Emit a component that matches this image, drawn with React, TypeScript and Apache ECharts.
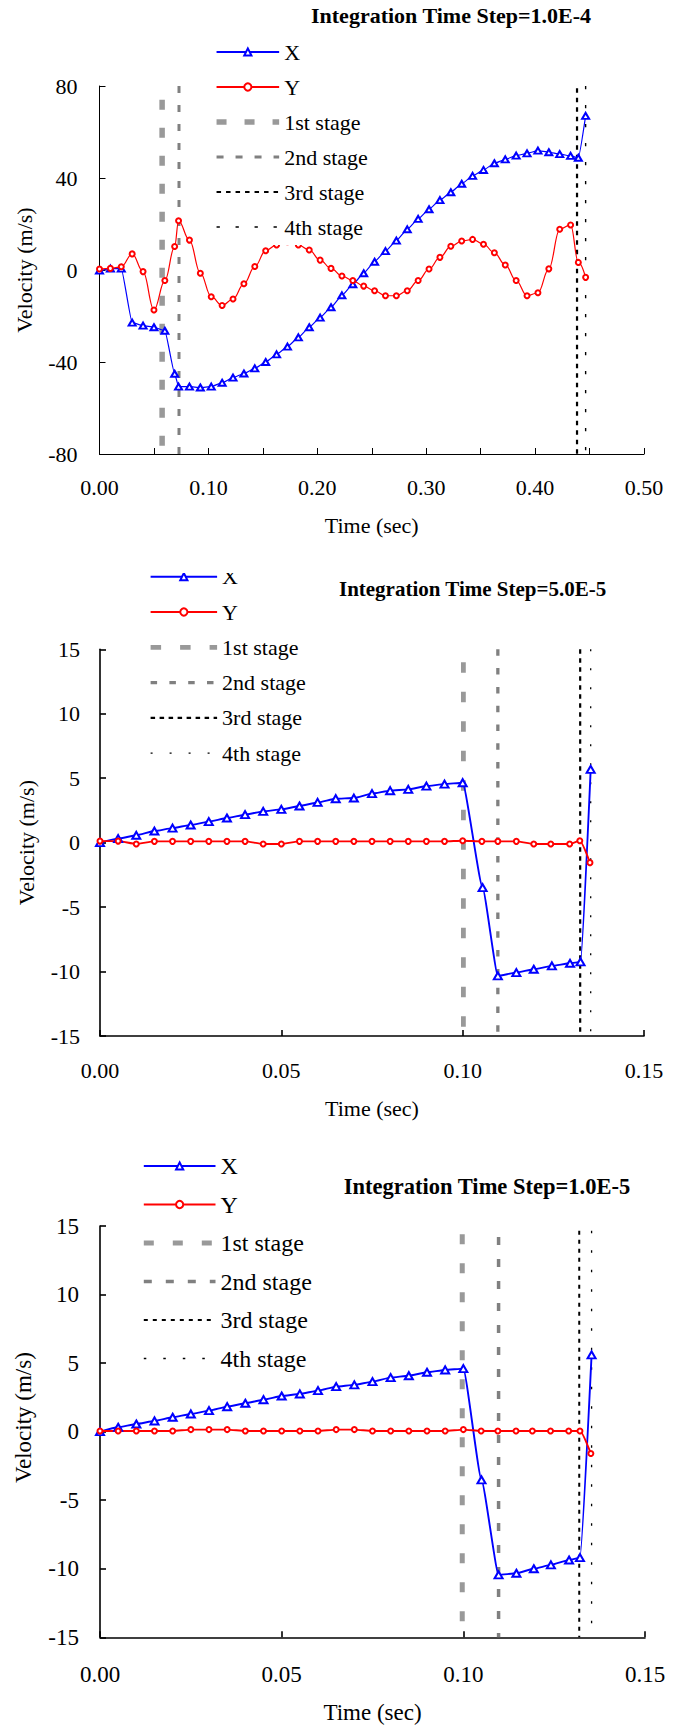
import React, { useEffect, useRef } from 'react';
import * as echarts from 'echarts';

const FONT = "'Liberation Serif', 'Times New Roman', serif";
const LEGEND_NAMES = ['X', 'Y', '1st stage', '2nd stage', '3rd stage', '4th stage'];
const STAGE_NAMES = ['1st stage', '2nd stage', '3rd stage', '4th stage'];
const STAGE_COLORS = ['#999999', '#808080', '#000000', '#000000'];

// ---------- Chart 1: step 1.0E-4 ----------
const title1 = 'Integration Time Step=1.0E-4';
const time1 = [0, 0.01, 0.02, 0.03, 0.04, 0.05, 0.06, 0.069, 0.0726, 0.0826, 0.0926, 0.1026, 0.1126, 0.1226, 0.1326, 0.1426, 0.1526, 0.1626, 0.1726, 0.1826, 0.1926, 0.2026, 0.2126, 0.2226, 0.2326, 0.2426, 0.2526, 0.2626, 0.2726, 0.2826, 0.2926, 0.3026, 0.3126, 0.3226, 0.3326, 0.3426, 0.3526, 0.3626, 0.3726, 0.3826, 0.3926, 0.4026, 0.4126, 0.4226, 0.4326, 0.4397, 0.4464];
const velX1 = [-0.3, 0.6, 0.6, -22.9, -24.2, -24.9, -26.4, -45.1, -50.7, -50.7, -51.1, -50.7, -49.0, -46.8, -45.0, -42.8, -40.0, -36.7, -33.3, -29.3, -24.9, -20.7, -16.2, -11.0, -6.2, -1.4, 3.6, 8.2, 12.8, 17.7, 22.2, 26.4, 30.4, 33.8, 37.5, 40.9, 43.5, 46.4, 48.1, 49.7, 50.7, 51.9, 51.2, 50.4, 49.6, 48.8, 67.0];
const velY1 = [0.4, 0.7, 1.4, 7.0, -0.7, -17.4, -4.6, 10.2, 21.4, 13.0, -1.4, -11.6, -15.4, -12.6, -6.0, 1.5, 8.4, 10.9, 12.3, 10.9, 8.7, 4.3, 0.7, -2.6, -4.6, -7.0, -9.0, -11.2, -11.2, -9.0, -4.6, 0.4, 5.5, 10.3, 12.6, 13.3, 11.2, 7.5, 2.2, -4.6, -11.2, -9.9, 0.5, 17.7, 19.6, 3.3, -3.2];
const stageTime1 = [0.0575, 0.073, 0.4385, 0.4464];
const stageTop1 = [74, 80, 79, 80];
const xTicks1 = [0, 0.5, 0.1];
const yTicks1 = [-80, 80, 40];

// ---------- Chart 2: step 5.0E-5 ----------
const title2 = 'Integration Time Step=5.0E-5';
const timeX2 = [0, 0.005, 0.01, 0.015, 0.02, 0.025, 0.03, 0.035, 0.04, 0.045, 0.05, 0.055, 0.06, 0.065, 0.07, 0.075, 0.08, 0.085, 0.09, 0.095, 0.1, 0.1055, 0.1097, 0.1148, 0.1196, 0.1246, 0.1296, 0.1325, 0.1353];
const velX2 = [0, 0.31, 0.57, 0.9, 1.13, 1.37, 1.63, 1.91, 2.17, 2.43, 2.58, 2.84, 3.12, 3.41, 3.46, 3.8, 4.03, 4.13, 4.39, 4.54, 4.65, -3.49, -10.34, -10.08, -9.82, -9.56, -9.36, -9.25, 5.68];
const timeY2 = [0, 0.005, 0.01, 0.015, 0.02, 0.025, 0.03, 0.035, 0.04, 0.045, 0.05, 0.055, 0.06, 0.065, 0.07, 0.075, 0.08, 0.085, 0.09, 0.095, 0.1, 0.1053, 0.1097, 0.1148, 0.1196, 0.1243, 0.1295, 0.1323, 0.1351];
const velY2 = [0.12, 0.12, -0.1, 0.1, 0.1, 0.1, 0.1, 0.1, 0.1, -0.1, -0.1, 0.1, 0.1, 0.1, 0.1, 0.1, 0.1, 0.1, 0.1, 0.1, 0.15, 0.1, 0.1, 0.1, -0.1, -0.1, -0.1, 0.15, -1.55];
const stageTime2 = [0.1002, 0.1097, 0.1324, 0.1353];
const stageTop2 = [14.0, 15, 15, 15];
const xTicks2 = [0, 0.15, 0.05];
const yTicks2 = [-15, 15, 5];

// ---------- Chart 3: step 1.0E-5 ----------
const title3 = 'Integration Time Step=1.0E-5';
const timeX3 = [0, 0.005, 0.01, 0.015, 0.02, 0.025, 0.03, 0.035, 0.04, 0.045, 0.05, 0.055, 0.06, 0.065, 0.07, 0.075, 0.08, 0.085, 0.09, 0.095, 0.1, 0.105, 0.1097, 0.1146, 0.1194, 0.1241, 0.1291, 0.1321, 0.1353];
const velX3 = [0, 0.32, 0.56, 0.78, 1.05, 1.29, 1.53, 1.82, 2.07, 2.33, 2.6, 2.75, 2.99, 3.28, 3.41, 3.65, 3.94, 4.08, 4.33, 4.5, 4.6, -3.52, -10.45, -10.33, -10.0, -9.72, -9.36, -9.19, 5.6];
const timeY3 = [0, 0.005, 0.01, 0.015, 0.02, 0.025, 0.03, 0.035, 0.04, 0.045, 0.05, 0.055, 0.06, 0.065, 0.07, 0.075, 0.08, 0.085, 0.09, 0.095, 0.1, 0.1049, 0.1095, 0.1145, 0.119, 0.124, 0.129, 0.1321, 0.1351];
const velY3 = [0.05, 0.05, 0.05, 0.05, 0.05, 0.15, 0.15, 0.15, 0.05, 0.05, 0.05, 0.05, 0.05, 0.15, 0.15, 0.05, 0.05, 0.05, 0.05, 0.05, 0.15, 0.05, 0.05, 0.05, 0.05, 0.05, 0.05, 0.05, -1.6];
const stageTime3 = [0.0997, 0.1097, 0.1319, 0.1353];
const stageTop3 = [14.4, 14.2, 14.65, 14.65];
const xTicks3 = [0, 0.15, 0.05];
const yTicks3 = [-15, 15, 5];

type Cfg = {
  divTop: number; divHeight: number;
  grid: { left: number; top: number; width: number; height: number };
  xTicks: number[]; yTicks: number[]; xMinor: boolean;
  title: string; titleX: number; titleY: number; titleSize: number;
  tX: number[]; vX: number[]; tY: number[]; vY: number[];
  stageT: number[]; stageTop: number[];
  stageW: number[]; stageDash: number[][];
  axisW: number; lineW: number; triSize: number[]; circSize: number;
  smoothX: number; smoothY: number;
  fontSize: number; nameSize: number;
  xLabelMargin: number; yLabelMargin: number; xNameGap: number; yNameGap: number; yNamePad: number[];
  legend: any;
};

function buildOption(c: Cfg): any {
  const stageSeries = STAGE_NAMES.map((name, i) => ({
    name, type: 'line', symbol: 'none', silent: true, z: 2, animation: false,
    data: [[c.stageT[i], c.stageTop[i]], [c.stageT[i], c.yTicks[0]]],
    lineStyle: { color: STAGE_COLORS[i], width: c.stageW[i], type: c.stageDash[i], cap: 'butt' },
    itemStyle: { color: STAGE_COLORS[i] },
  }));
  const axisLineStyle = { color: '#000', width: c.axisW };
  return {
    animation: false,
    backgroundColor: '#fff',
    textStyle: { fontFamily: FONT },
    grid: { ...c.grid, containLabel: false, outerBoundsMode: 'none' },
    graphic: [{
      type: 'text', x: c.titleX, y: c.titleY, z: 10,
      style: { text: c.title, fontFamily: FONT, fontSize: c.titleSize, fontWeight: 'bold', fill: '#000', align: 'center', verticalAlign: 'middle' },
    }],
    legend: {
      orient: 'vertical', selectedMode: false,
      itemHeight: 9,
      textStyle: { fontFamily: FONT, fontSize: c.legend.fontSize, color: '#000', lineHeight: c.legend.fontSize },
      ...c.legend.box,
      data: LEGEND_NAMES.map((name, i) => i < 2 ? { name } : {
        name,
        itemStyle: { opacity: 0 },
        lineStyle: { width: c.stageW[i - 2], type: c.stageDash[i - 2], color: STAGE_COLORS[i - 2], cap: 'butt' },
      }),
    },
    xAxis: {
      type: 'value', min: c.xTicks[0], max: c.xTicks[1], interval: c.xTicks[2],
      axisLine: { show: true, onZero: false, lineStyle: axisLineStyle },
      axisTick: { show: true, inside: true, length: 6, lineStyle: axisLineStyle },
      minorTick: { show: c.xMinor, splitNumber: 2, length: 6, lineStyle: axisLineStyle },
      splitLine: { show: false }, minorSplitLine: { show: false },
      axisLabel: { margin: c.xLabelMargin, fontFamily: FONT, fontSize: c.fontSize, color: '#000', formatter: (v: number) => v.toFixed(2) },
      name: 'Time (sec)', nameLocation: 'middle', nameGap: c.xNameGap,
      nameTextStyle: { fontFamily: FONT, fontSize: c.nameSize, color: '#000' },
    },
    yAxis: {
      type: 'value', min: c.yTicks[0], max: c.yTicks[1], interval: c.yTicks[2],
      axisLine: { show: true, onZero: false, lineStyle: axisLineStyle },
      axisTick: { show: true, inside: true, length: 6, lineStyle: axisLineStyle },
      splitLine: { show: false },
      axisLabel: { margin: c.yLabelMargin, fontFamily: FONT, fontSize: c.fontSize, color: '#000', formatter: (v: number) => String(Math.round(v)) },
      name: 'Velocity (m/s)', nameLocation: 'middle', nameGap: c.yNameGap, nameRotate: 90,
      nameTextStyle: { fontFamily: FONT, fontSize: c.nameSize, color: '#000', padding: c.yNamePad },
    },
    series: [
      ...stageSeries,
      {
        name: 'X', type: 'line', z: 3, smooth: c.smoothX, smoothMonotone: 'x',
        data: c.tX.map((t, i) => [t, c.vX[i]]),
        symbol: 'emptyTriangle', symbolSize: c.triSize,
        lineStyle: { color: '#0000ff', width: c.lineW },
        itemStyle: { color: '#0000ff', borderWidth: 1.3 },
      },
      {
        name: 'Y', type: 'line', z: 3, smooth: c.smoothY, smoothMonotone: 'x',
        data: c.tY.map((t, i) => [t, c.vY[i]]),
        symbol: 'emptyCircle', symbolSize: c.circSize,
        lineStyle: { color: '#ff0000', width: c.lineW },
        itemStyle: { color: '#ff0000', borderWidth: 1.3 },
      },
    ],
  };
}

const cfgs: Cfg[] = [
  {
    divTop: 0, divHeight: 573,
    grid: { left: 99.5, top: 86, width: 544.5, height: 368 },
    xTicks: xTicks1, yTicks: yTicks1, xMinor: true,
    title: title1, titleX: 451, titleY: 15, titleSize: 22,
    tX: time1, vX: velX1, tY: time1, vY: velY1,
    stageT: stageTime1, stageTop: stageTop1,
    stageW: [5.5, 3, 2.2, 1.4], stageDash: [[10, 18], [7, 12], [4.5, 5], [3.3, 15.7]],
    axisW: 1, lineW: 1.2, triSize: [7, 6], circSize: 5,
    smoothX: 0.15, smoothY: 0.4,
    fontSize: 22, nameSize: 22,
    xLabelMargin: 22, yLabelMargin: 22, xNameGap: 60, yNameGap: 64, yNamePad: [0, 0, 0, 0],
    legend: { fontSize: 22, box: { left: 205.8, top: 33, padding: [8, 8, 7, 8], itemWidth: 62.6, itemGap: 13, backgroundColor: '#fff' } },
  },
  {
    divTop: 573, divHeight: 577,
    grid: { left: 100, top: 76.3, width: 544, height: 386.7 },
    xTicks: xTicks2, yTicks: yTicks2, xMinor: false,
    title: title2, titleX: 472.6, titleY: 15.5, titleSize: 21,
    tX: timeX2, vX: velX2, tY: timeY2, vY: velY2,
    stageT: stageTime2, stageTop: stageTop2,
    stageW: [4.8, 3.3, 2.2, 1.3], stageDash: [[10.5, 19], [6.5, 12.3], [4.5, 4.5], [2, 17]],
    axisW: 1.6, lineW: 1.9, triSize: [8, 7], circSize: 5,
    smoothX: 0.15, smoothY: 0.2,
    fontSize: 22, nameSize: 22,
    xLabelMargin: 23, yLabelMargin: 20, xNameGap: 61, yNameGap: 63, yNamePad: [0, 0, 0, 0],
    legend: { fontSize: 22, box: { left: 148.2, top: -7.3, padding: 0, itemWidth: 66.5, itemGap: 13.3 } },
  },
  {
    divTop: 1150, divHeight: 576,
    grid: { left: 100, top: 76, width: 545, height: 411.3 },
    xTicks: xTicks3, yTicks: yTicks3, xMinor: false,
    title: title3, titleX: 487, titleY: 36.5, titleSize: 22.5,
    tX: timeX3, vX: velX3, tY: timeY3, vY: velY3,
    stageT: stageTime3, stageTop: stageTop3,
    stageW: [5, 3.5, 2, 1.3], stageDash: [[10, 19], [8, 14], [4, 5], [2.5, 17]],
    axisW: 1.6, lineW: 1.9, triSize: [8, 7], circSize: 5,
    smoothX: 0.15, smoothY: 0.2,
    fontSize: 23, nameSize: 23,
    xLabelMargin: 26, yLabelMargin: 21, xNameGap: 64, yNameGap: 65, yNamePad: [0, 0, 0, 28],
    legend: { fontSize: 24, box: { left: 141.3, top: 4, padding: 0, itemWidth: 71.7, itemGap: 14.5 } },
  },
];

function Chart({ cfg }: { cfg: Cfg }) {
  const ref = useRef<HTMLDivElement>(null);
  useEffect(() => {
    if (!ref.current) return;
    const chart = echarts.init(ref.current, null, { renderer: 'svg' });
    chart.setOption(buildOption(cfg));
    return () => chart.dispose();
  }, [cfg]);
  return (
    <div
      ref={ref}
      style={{ position: 'absolute', left: 0, top: cfg.divTop, width: 679, height: cfg.divHeight, overflow: 'hidden' }}
    />
  );
}

export default function App() {
  return (
    <div style={{ position: 'absolute', left: 0, top: 0, width: 679, height: 1726, background: '#fff' }}>
      {cfgs.map((c, i) => <Chart key={i} cfg={c} />)}
    </div>
  );
}
